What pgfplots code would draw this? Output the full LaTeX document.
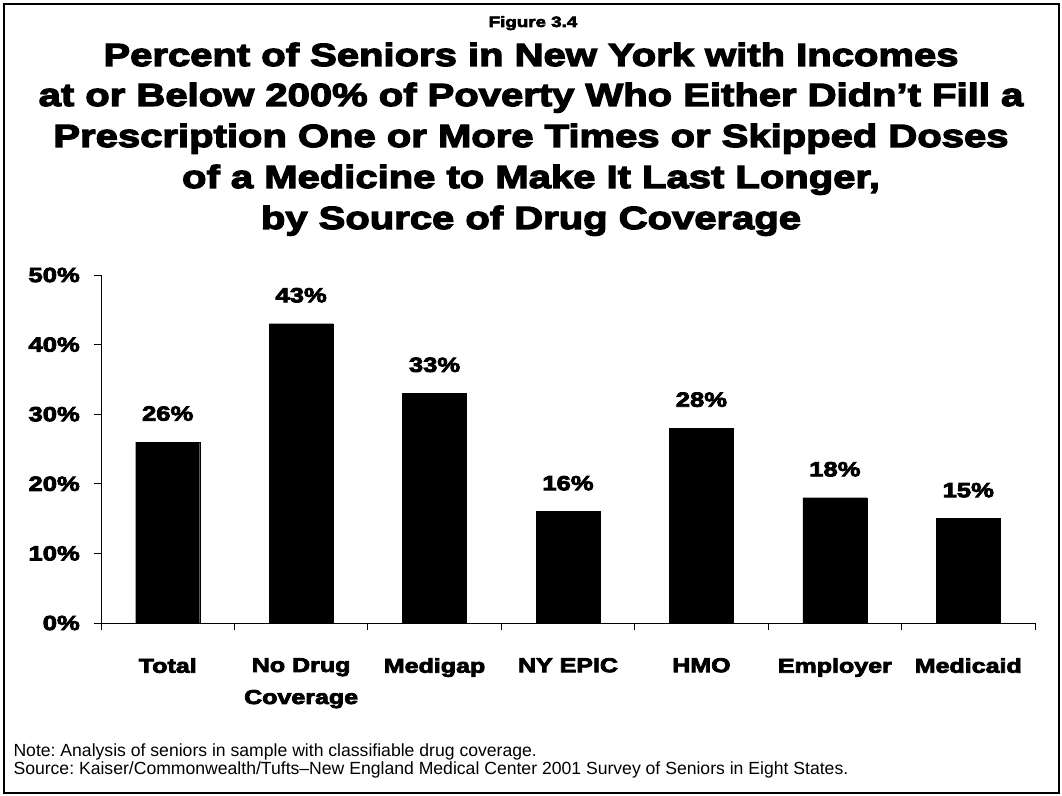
\documentclass[border=0pt]{standalone}
\usepackage{pgfplots}
\pgfplotsset{compat=1.18}
\usepackage{fontspec}
\setmainfont{Liberation Sans}
\newfontfamily\blackfont{Liberation Sans}[FakeBold=4, FakeStretch=1.25]
\newcommand\bk[1]{\blackfont\bfseries\fontsize{#1bp}{#1bp}\selectfont}
\frenchspacing
\begin{document}
\begin{tikzpicture}[x=1bp,y=1bp]
\path[use as bounding box] (0,0) rectangle (1062,796);
\draw[line width=2bp] (4,3) rectangle (1059,792);
\node[anchor=base, font=\bk{15}] at (533,796-27) {Figure 3.4};
\node[anchor=base, font=\bk{32}] at (531,796-66) {Percent of Seniors in New York with Incomes};
\node[anchor=base, font=\bk{32}] at (531,796-106) {at or Below 200\% of Poverty Who Either Didn’t Fill a};
\node[anchor=base, font=\bk{32}] at (531,796-147) {Prescription One or More Times or Skipped Doses};
\node[anchor=base, font=\bk{32}] at (531,796-188) {of a Medicine to Make It Last Longer,};
\node[anchor=base, font=\bk{32}] at (531,796-229) {by Source of Drug Coverage};
\node[anchor=base west, font=\fontsize{17.6bp}{18bp}\selectfont] at (10,796-757) {Note: Analysis of seniors in sample with classifiable drug coverage.};
\node[anchor=base west, font=\fontsize{17.6bp}{18bp}\selectfont] at (10,796-775) {Source: Kaiser/Commonwealth/Tufts\textendash New England Medical Center 2001 Survey of Seniors in Eight States.};
\begin{axis}[
  at={(101bp,173bp)}, anchor=south west,
  scale only axis, width=934bp, height=348bp,
  xmin=-0.5, xmax=6.5, ymin=0, ymax=50,
  axis x line*=bottom, axis y line*=left,
  axis line style={black, line width=0.8bp},
  ybar, bar width=64bp,
  /pgf/number format/assume math mode=true,
  xtick={-0.5,0.5,...,6.5}, xticklabels={},
  extra x ticks={0,1,2,3,4,5,6},
  extra x tick labels={Total, No Drug\\Coverage, Medigap, NY EPIC, HMO, Employer, Medicaid},
  extra x tick style={major tick length=0pt, tick style={draw=none}},
  xticklabel style={font=\blackfont\bfseries\fontsize{20bp}{32bp}\selectfont, align=center, anchor=north, inner sep=0pt, yshift=-35bp},
  ytick={0,10,20,30,40,50},
  yticklabels={0\%,10\%,20\%,30\%,40\%,50\%},
  yticklabel style={font=\bk{20.5}, inner sep=0pt, anchor=east, xshift=-14bp},
  tick align=outside, major tick length=7bp,
  tick style={black, line width=0.8bp},
  nodes near coords={\pgfmathprintnumber{\pgfplotspointmeta}\%},
  every node near coord/.append style={font=\bk{20.5}, inner sep=0pt, yshift=21bp},
]
\addplot[fill=black, draw=black] coordinates {(0,26) (1,43) (2,33) (3,16) (4,28) (5,18) (6,15)};
\end{axis}
\end{tikzpicture}
\end{document}
